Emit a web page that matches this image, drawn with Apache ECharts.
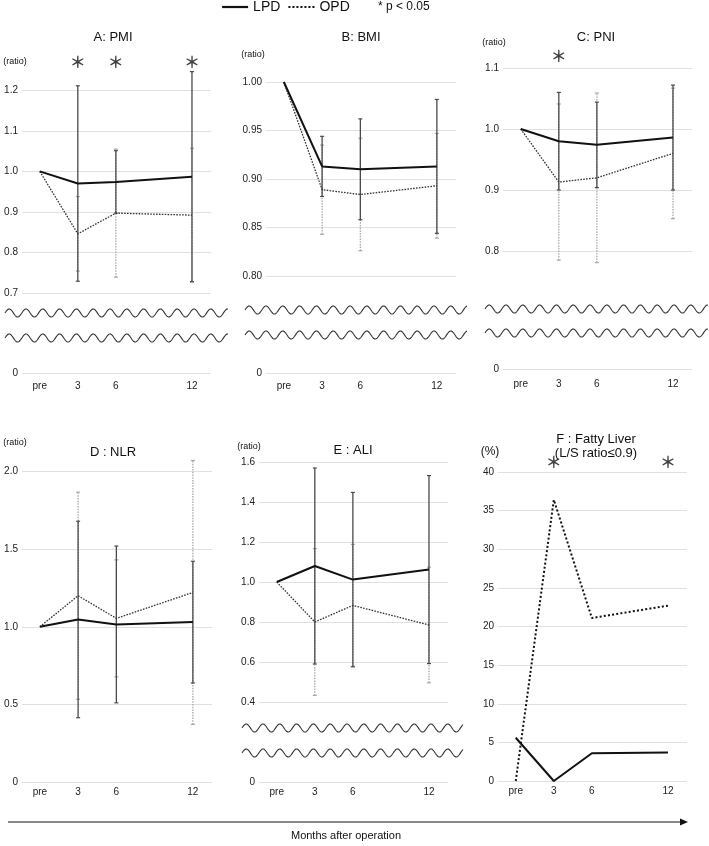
<!DOCTYPE html>
<html>
<head>
<meta charset="utf-8">
<script src="https://cdn.jsdelivr.net/npm/echarts@6/dist/echarts.min.js"></script>
<style>
  html, body { margin: 0; padding: 0; background: #fff; }
  #chart { width: 709px; height: 846px; }
</style>
</head>
<body>
<div id="chart"></div>
<script>
// months after operation (pre = 0)
const months = [0, 3, 6, 12];
const monthLabels = ['pre', '3', '6', '12'];

// A: PMI (ratio to pre)
const pmiLPD = [1.0, 0.970, 0.974, 0.987];
const pmiLPDsd = [0, 0.241, 0.077, 0.259];
const pmiOPD = [1.0, 0.846, 0.897, 0.892];
const pmiOPDsd = [0, 0.092, 0.158, 0.165];
const pmiSig = [3, 6, 12];

// B: BMI
const bmiLPD = [1.0, 0.913, 0.910, 0.913];
const bmiLPDsd = [0, 0.031, 0.052, 0.069];
const bmiOPD = [1.0, 0.889, 0.884, 0.893];
const bmiOPDsd = [0, 0.046, 0.058, 0.054];

// C: PNI
const pniLPD = [1.0, 0.980, 0.974, 0.986];
const pniLPDsd = [0, 0.080, 0.070, 0.086];
const pniOPD = [1.0, 0.913, 0.920, 0.960];
const pniOPDsd = [0, 0.128, 0.139, 0.107];
const pniSig = [3];

// D: NLR
const nlrLPD = [1.0, 1.047, 1.015, 1.030];
const nlrLPDsd = [0, 0.633, 0.505, 0.392];
const nlrOPD = [1.0, 1.200, 1.054, 1.221];
const nlrOPDsd = [0, 0.667, 0.377, 0.850];

// E: ALI
const aliLPD = [1.0, 1.080, 1.012, 1.062];
const aliLPDsd = [0, 0.490, 0.436, 0.470];
const aliOPD = [1.0, 0.800, 0.883, 0.785];
const aliOPDsd = [0, 0.367, 0.305, 0.289];

// F: fatty liver, L/S ratio <= 0.9 (%)
const fatLPD = [5.6, 0, 3.6, 3.7];
const fatOPD = [0, 36.4, 21.1, 22.7];
const fatSig = [3, 12];

const font = '"Liberation Sans", Arial, sans-serif';

const panels = [
  { title: ['A: PMI'], tx: 113, ty: 37, unit: '(ratio)', ux: 15, uy: 62,
    lpd: pmiLPD, lpdSd: pmiLPDsd, opd: pmiOPD, opdSd: pmiOPDsd, sig: pmiSig, sigY: 1.27,
    left: 22, right: 211, top: 70, bottom: 293, min: 0.7, max: 1.25, step: 0.1, dec: 1, topTick: false,
    zeroY: 373, waves: [313, 338], waveX: [5, 228], margin: 8 },
  { title: ['B: BMI'], tx: 361, ty: 37, unit: '(ratio)', ux: 253, uy: 55,
    lpd: bmiLPD, lpdSd: bmiLPDsd, opd: bmiOPD, opdSd: bmiOPDsd, sig: [],
    left: 266, right: 456, top: 82, bottom: 276, min: 0.8, max: 1.0, step: 0.05, dec: 2, topTick: true,
    zeroY: 373, waves: [310, 335], waveX: [245, 467], margin: 8 },
  { title: ['C: PNI'], tx: 596, ty: 37, unit: '(ratio)', ux: 494, uy: 43,
    lpd: pniLPD, lpdSd: pniLPDsd, opd: pniOPD, opdSd: pniOPDsd, sig: pniSig, sigY: 1.119,
    left: 503, right: 692, top: 68, bottom: 251, min: 0.8, max: 1.1, step: 0.1, dec: 1, topTick: true,
    zeroY: 369, waves: [309, 333], waveX: [485, 708], margin: 10 },
  { title: ['D : NLR'], tx: 113, ty: 452, unit: '(ratio)', ux: 15, uy: 443,
    lpd: nlrLPD, lpdSd: nlrLPDsd, opd: nlrOPD, opdSd: nlrOPDsd, sig: [],
    left: 22, right: 212, top: 456, bottom: 782, min: 0, max: 2.1, step: 0.5, dec: 1, topTick: false,
    margin: 5 },
  { title: ['E : ALI'], tx: 353, ty: 450, unit: '(ratio)', ux: 249, uy: 447,
    lpd: aliLPD, lpdSd: aliLPDsd, opd: aliOPD, opdSd: aliOPDsd, sig: [],
    left: 259, right: 448, top: 462, bottom: 702, min: 0.4, max: 1.6, step: 0.2, dec: 1, topTick: true,
    zeroY: 782, waves: [728, 753], waveX: [242, 463], margin: 5 },
  { title: ['F : Fatty Liver', '(L/S ratio\u22640.9)'], tx: 596, ty: 439, unit: '(%)', ux: 490, uy: 452, unitSize: 12,
    lpd: fatLPD, opd: fatOPD, sig: fatSig, sigY: 41.3, fatty: true,
    left: 498, right: 687, top: 472, bottom: 781, min: 0, max: 40, step: 5, dec: 0, topTick: true,
    margin: 5 }
];

const grids = [], xAxes = [], yAxes = [], series = [], graphics = [];

function xAxis(gi, labels, margin) {
  return {
    gridIndex: gi, type: 'value', min: -1.4, max: 13.5,
    axisLine: { show: false }, axisTick: { show: false }, splitLine: { show: false },
    axisLabel: {
      show: labels, customValues: months, margin: margin, fontSize: 10, color: '#222', fontFamily: font,
      formatter: v => monthLabels[months.indexOf(v)]
    }
  };
}

function yAxis(gi, min, max, step, dec, topTick) {
  return {
    gridIndex: gi, type: 'value', min: min, max: max, interval: step,
    axisLine: { show: false }, axisTick: { show: false },
    axisLabel: {
      fontSize: 10, color: '#222', margin: 4, fontFamily: font, showMaxLabel: topTick,
      formatter: v => (v === 0 ? '0' : v.toFixed(dec))
    },
    splitLine: { showMaxLine: topTick, lineStyle: { color: '#e0e0e0', width: 1 } }
  };
}

function errSeries(gi, name, mean, sd, color, dash) {
  const data = [];
  months.forEach((m, i) => { if (sd[i] > 0) data.push([m, mean[i] - sd[i], mean[i] + sd[i]]); });
  return {
    name: name, type: 'custom', xAxisIndex: gi, yAxisIndex: gi, silent: true,
    renderItem: (params, api) => {
      const lo = api.coord([api.value(0), api.value(1)]);
      const hi = api.coord([api.value(0), api.value(2)]);
      return {
        type: 'group',
        children: [
          { type: 'line', shape: { x1: lo[0], y1: lo[1], x2: hi[0], y2: hi[1] },
            style: { stroke: color, lineWidth: 1.3, lineDash: dash } },
          { type: 'line', shape: { x1: lo[0] - 2, y1: lo[1], x2: lo[0] + 2, y2: lo[1] },
            style: { stroke: color, lineWidth: 1.2 } },
          { type: 'line', shape: { x1: hi[0] - 2, y1: hi[1], x2: hi[0] + 2, y2: hi[1] },
            style: { stroke: color, lineWidth: 1.2 } }
        ]
      };
    },
    data: data
  };
}

function lineSeries(gi, name, vals, lineStyle) {
  return {
    name: name, type: 'line', xAxisIndex: gi, yAxisIndex: gi,
    symbol: 'none', silent: true, lineStyle: lineStyle, itemStyle: { color: lineStyle.color },
    data: months.map((m, i) => [m, vals[i]])
  };
}

function wave(x0, x1, y) {
  const pts = [];
  for (let x = x0; x <= x1; x += 0.5) pts.push([x, y - 4 * Math.sin(((x - x0) / 16.8) * 2 * Math.PI)]);
  return { type: 'polyline', silent: true, shape: { points: pts }, style: { stroke: '#333', lineWidth: 1.1, fill: null } };
}

function text(str, x, y, size, align) {
  return {
    type: 'text', x: x, y: y, silent: true,
    style: { text: str, fontSize: size, fontFamily: font, fill: '#111', align: align || 'center', verticalAlign: 'middle' }
  };
}

panels.forEach(p => {
  const width = p.right - p.left;
  const broken = p.zeroY != null;
  const gi = grids.length;
  grids.push({ left: p.left, top: p.top, width: width, height: p.bottom - p.top });
  xAxes.push(xAxis(gi, !broken, p.margin));
  yAxes.push(yAxis(gi, p.min, p.max, p.step, p.dec, p.topTick));

  if (broken) {
    const li = grids.length;
    grids.push({ left: p.left, top: p.zeroY - 10, width: width, height: 10 });
    xAxes.push(xAxis(li, true, p.margin));
    yAxes.push(yAxis(li, 0, 1, 1, 0, false));
    p.waves.forEach(y => graphics.push(wave(p.waveX[0], p.waveX[1], y)));
  }

  if (p.fatty) {
    series.push(lineSeries(gi, 'OPD', p.opd, { color: '#111', width: 2, type: [2, 2.2] }));
    series.push(lineSeries(gi, 'LPD', p.lpd, { color: '#111', width: 2 }));
  } else {
    series.push(errSeries(gi, 'OPD sd', p.opd, p.opdSd, '#a8a8a8', [1.5, 1.2]));
    series.push(errSeries(gi, 'LPD sd', p.lpd, p.lpdSd, '#4a4a4a', null));
    series.push(lineSeries(gi, 'OPD', p.opd, { color: '#333', width: 1.3, type: [1.6, 1.3] }));
    series.push(lineSeries(gi, 'LPD', p.lpd, { color: '#111', width: 2 }));
  }

  if (p.sig.length) {
    series.push({
      name: 'sig', type: 'scatter', xAxisIndex: gi, yAxisIndex: gi, clip: false, silent: true,
      symbolSize: 1, itemStyle: { color: 'rgba(0,0,0,0)' },
      label: { show: true, position: 'inside', formatter: '\uFF0A', fontSize: 16, fontWeight: 'bold',
        fontFamily: '"Noto Sans CJK JP"', color: '#111' },
      data: p.sig.map(x => [x, p.sigY])
    });
  }

  p.title.forEach((t, k) => graphics.push(text(t, p.tx, p.ty + k * 14, 13)));
  graphics.push(text(p.unit, p.ux, p.uy, p.unitSize || 9));
});

// legend note, bottom arrow and axis title
graphics.push(text('* p < 0.05', 378, 7, 12, 'left'));
graphics.push({ type: 'line', silent: true, shape: { x1: 8, y1: 822, x2: 681, y2: 822 }, style: { stroke: '#111', lineWidth: 1.2 } });
graphics.push({ type: 'polygon', silent: true, shape: { points: [[680, 818.5], [688, 822], [680, 825.5]] }, style: { fill: '#111' } });
graphics.push(text('Months after operation', 346, 836, 11));

const chart = echarts.init(document.getElementById('chart'));
chart.setOption({
  animation: false,
  backgroundColor: '#fff',
  textStyle: { fontFamily: font },
  legend: {
    left: 221, top: 0, padding: 0, itemWidth: 26, itemHeight: 14, itemGap: 7,
    selectedMode: false, textStyle: { fontSize: 14, color: '#111', fontFamily: font },
    itemStyle: { opacity: 0 },
    data: [
      { name: 'LPD', lineStyle: { color: '#111', width: 2.2 } },
      { name: 'OPD', lineStyle: { color: '#111', width: 2.2, type: [2, 2] } }
    ]
  },
  grid: grids,
  xAxis: xAxes,
  yAxis: yAxes,
  series: series,
  graphic: graphics
});
</script>
</body>
</html>
